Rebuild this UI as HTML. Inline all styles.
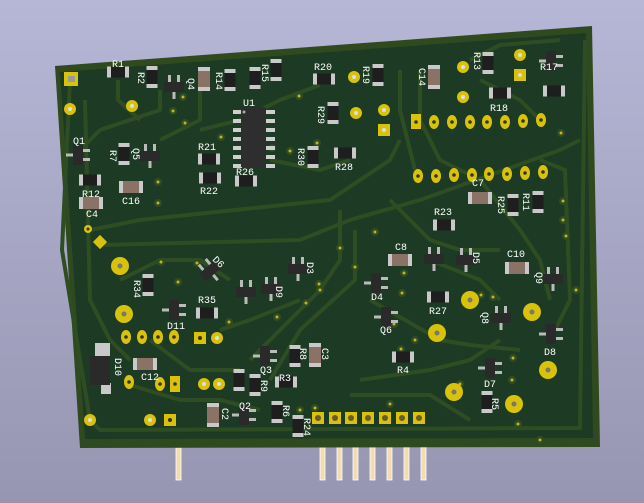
<!DOCTYPE html>
<html><head><meta charset="utf-8"><style>
html,body{margin:0;padding:0;width:644px;height:503px;overflow:hidden}
body{background:linear-gradient(#b6b6d6,#9696b2)}
svg text{font-family:"Liberation Mono",monospace;font-size:10px;fill:#fff}
</style></head><body>
<svg width="644" height="503" viewBox="0 0 644 503" xmlns="http://www.w3.org/2000/svg">
<defs>
<g id="rh"><rect x="-11" y="-5.5" width="22" height="11" fill="#c9c9c9"/><rect x="-7" y="-5.5" width="14" height="11" fill="#1e1e1e"/></g>
<g id="rv"><rect x="-5.5" y="-11" width="11" height="22" fill="#c9c9c9"/><rect x="-5.5" y="-7" width="11" height="14" fill="#1e1e1e"/></g>
<g id="ch"><rect x="-12" y="-6" width="24" height="12" fill="#c9c9c9"/><rect x="-8" y="-6" width="16" height="12" fill="#8a7266"/></g>
<g id="cv"><rect x="-6" y="-12" width="12" height="24" fill="#c9c9c9"/><rect x="-6" y="-8" width="12" height="16" fill="#8a7266"/></g>
<g id="sh"><rect x="-6" y="-12" width="3" height="7" fill="#bbb"/><rect x="3" y="-12" width="3" height="7" fill="#bbb"/><rect x="-1.5" y="5" width="3" height="7" fill="#bbb"/><rect x="-10" y="-5" width="20" height="10" fill="#2a2a2a"/></g>
<g id="sv"><rect x="-12" y="-1.5" width="7" height="3" fill="#bbb"/><rect x="5" y="-6" width="7" height="3" fill="#bbb"/><rect x="5" y="3" width="7" height="3" fill="#bbb"/><rect x="-5" y="-10" width="10" height="20" fill="#2a2a2a"/></g>
<g id="p"><ellipse rx="5" ry="7" fill="#d9c20a"/><circle r="1.8" fill="#333"/></g>
<g id="pb"><circle r="9" fill="#d9c20a"/><circle r="2.5" fill="#777"/></g>
<g id="pr"><circle r="6" fill="#d9c20a"/><circle r="2" fill="#ddd"/></g>
<g id="v"><circle r="4" fill="#2f4d22"/><circle r="1.5" fill="#c8b020"/></g>
</defs>
<g fill="#f2dcb0" stroke="#fff" stroke-width="0.8">
<rect x="176" y="447" width="5" height="33"/>
<rect x="320" y="447" width="5" height="33"/><rect x="337" y="447" width="5" height="33"/><rect x="353" y="447" width="5" height="33"/><rect x="370" y="447" width="5" height="33"/><rect x="387" y="447" width="5" height="33"/><rect x="404" y="447" width="5" height="33"/><rect x="421" y="447" width="5" height="33"/>
</g>
<polygon points="55,66 592,26 600,447 80,448" fill="#2f4a1e"/>
<polygon points="60,72 586,33 593,438 85,439" fill="#1c3a24"/>
<g fill="none" stroke="#2f4d22" stroke-width="4" stroke-linejoin="round">
<polyline points="70,80 62,250 90,420 100,430 580,428 585,40"/>
<polyline points="85,100 90,300 110,340 130,360"/>
<polyline points="118,80 118,100 140,120"/>
<polyline points="160,90 160,110 100,130 80,150"/>
<polyline points="200,90 200,120 160,140"/>
<polyline points="90,230 140,220 330,200 390,160 400,140"/>
<polyline points="100,245 300,240 350,220 420,200 560,150 580,140"/>
<polyline points="120,280 160,260 200,260 230,280"/>
<polyline points="340,210 340,260 320,290 280,330 250,360"/>
<polyline points="355,230 355,280 300,330 270,380"/>
<polyline points="400,70 400,110 415,170"/>
<polyline points="420,70 420,120 440,160 470,175"/>
<polyline points="480,80 520,100 540,120"/>
<polyline points="480,180 520,230 540,260 550,300"/>
<polyline points="390,200 430,240 460,250 500,250"/>
<polyline points="370,300 440,340 470,345 520,350"/>
<polyline points="360,380 430,370 470,360 500,340"/>
<polyline points="350,395 430,395 470,420"/>
<polyline points="130,385 180,400 220,400 260,410"/>
<polyline points="150,340 190,370 240,370"/>
<polyline points="200,130 240,120 280,100 320,85"/>
<polyline points="270,160 320,170 350,160"/>
<polyline points="540,160 565,170 570,300 555,330"/>
<polyline points="470,60 500,45 560,40"/>
<polyline points="430,260 480,280 500,300"/>
<polyline points="220,330 250,320 300,300"/>
</g>
<g>
<use href="#v" x="183" y="97"/><use href="#v" x="173" y="111"/><use href="#v" x="185" y="123"/><use href="#v" x="158" y="182"/><use href="#v" x="158" y="203"/><use href="#v" x="161" y="262"/><use href="#v" x="178" y="282"/><use href="#v" x="221" y="137"/><use href="#v" x="272" y="148"/><use href="#v" x="290" y="151"/><use href="#v" x="317" y="143"/><use href="#v" x="299" y="96"/><use href="#v" x="340" y="248"/><use href="#v" x="355" y="267"/><use href="#v" x="320" y="290"/><use href="#v" x="306" y="303"/><use href="#v" x="277" y="317"/><use href="#v" x="319" y="284"/><use href="#v" x="197" y="263"/><use href="#v" x="229" y="322"/><use href="#v" x="376" y="288"/><use href="#v" x="402" y="293"/><use href="#v" x="415" y="340"/><use href="#v" x="460" y="384"/><use href="#v" x="512" y="406"/><use href="#v" x="401" y="349"/><use href="#v" x="512" y="380"/><use href="#v" x="518" y="424"/><use href="#v" x="540" y="440"/><use href="#v" x="563" y="201"/><use href="#v" x="563" y="220"/><use href="#v" x="576" y="290"/><use href="#v" x="513" y="358"/><use href="#v" x="493" y="297"/><use href="#v" x="566" y="236"/><use href="#v" x="561" y="133"/><use href="#v" x="375" y="232"/><use href="#v" x="481" y="295"/><use href="#v" x="315" y="408"/><use href="#v" x="300" y="410"/><use href="#v" x="390" y="404"/><use href="#v" x="394" y="324"/><use href="#v" x="404" y="273"/>
</g>
<rect x="64" y="72" width="14" height="14" fill="#d9c20a"/><rect x="68" y="76" width="7" height="6" fill="#999"/>
<use href="#pr" x="70" y="109"/><use href="#pr" x="132" y="106"/><use href="#pr" x="354" y="77"/><use href="#pr" x="356" y="113"/><use href="#pr" x="384" y="110"/>
<rect x="378" y="124" width="12" height="12" fill="#d9c20a"/><circle cx="384" cy="130" r="2" fill="#ddd"/>
<use href="#pr" x="463" y="67"/><use href="#pr" x="463" y="97"/><use href="#pr" x="520" y="55"/>
<rect x="514" y="69" width="12" height="12" fill="#d9c20a"/><circle cx="520" cy="75" r="2" fill="#ddd"/>
<rect x="411" y="114" width="10" height="15" fill="#d9c20a"/><circle cx="416" cy="122" r="1.8" fill="#333"/>
<use href="#p" x="434" y="122"/><use href="#p" x="452" y="122"/><use href="#p" x="470" y="122"/><use href="#p" x="487" y="122"/><use href="#p" x="505" y="122"/><use href="#p" x="523" y="121"/><use href="#p" x="541" y="120"/>
<use href="#p" x="418" y="176"/><use href="#p" x="436" y="176"/><use href="#p" x="454" y="175"/><use href="#p" x="472" y="175"/><use href="#p" x="489" y="174"/><use href="#p" x="507" y="174"/><use href="#p" x="525" y="173"/><use href="#p" x="543" y="172"/>
<circle cx="88" cy="229" r="4" fill="#d9c20a"/><circle cx="88" cy="229" r="1.5" fill="#333"/>
<rect x="95" y="237" width="10" height="10" fill="#d9c20a" transform="rotate(45 100 242)"/>
<use href="#pb" x="120" y="266"/><use href="#pb" x="124" y="314"/>
<use href="#p" x="126" y="337"/><use href="#p" x="142" y="337"/><use href="#p" x="158" y="337"/><use href="#p" x="174" y="337"/>
<rect x="194" y="332" width="12" height="12" fill="#d9c20a"/><circle cx="200" cy="338" r="2" fill="#333"/><use href="#pr" x="217" y="338"/>
<use href="#p" x="129" y="382"/><use href="#p" x="160" y="384"/>
<rect x="170" y="376" width="10" height="16" fill="#d9c20a"/><circle cx="175" cy="384" r="1.8" fill="#333"/>
<use href="#pr" x="204" y="384"/><use href="#pr" x="219" y="384"/>
<use href="#pr" x="90" y="420"/><use href="#pr" x="150" y="420"/>
<rect x="164" y="414" width="12" height="12" fill="#d9c20a"/><circle cx="170" cy="420" r="2" fill="#333"/>
<use href="#pb" x="470" y="300"/><use href="#pb" x="532" y="312"/><use href="#pb" x="437" y="333"/><use href="#pb" x="548" y="370"/><use href="#pb" x="454" y="392"/><use href="#pb" x="514" y="404"/>
<g fill="#d9c20a"><rect x="312" y="412" width="12" height="12"/><rect x="329" y="412" width="12" height="12"/><rect x="345" y="412" width="12" height="12"/><rect x="362" y="412" width="12" height="12"/><rect x="379" y="412" width="12" height="12"/><rect x="396" y="412" width="12" height="12"/><rect x="413" y="412" width="12" height="12"/></g>
<g fill="#6a5a30"><circle cx="318" cy="418" r="3"/><circle cx="335" cy="418" r="3"/><circle cx="351" cy="418" r="3"/><circle cx="368" cy="418" r="3"/><circle cx="385" cy="418" r="3"/><circle cx="402" cy="418" r="3"/><circle cx="419" cy="418" r="3"/></g>
<g fill="#cfcfcf"><rect x="233" y="110" width="9" height="4"/><rect x="233" y="119" width="9" height="4"/><rect x="233" y="128" width="9" height="4"/><rect x="233" y="137" width="9" height="4"/><rect x="233" y="146" width="9" height="4"/><rect x="233" y="155" width="9" height="4"/><rect x="233" y="164" width="9" height="4"/>
<rect x="266" y="110" width="9" height="4"/><rect x="266" y="119" width="9" height="4"/><rect x="266" y="128" width="9" height="4"/><rect x="266" y="137" width="9" height="4"/><rect x="266" y="146" width="9" height="4"/><rect x="266" y="155" width="9" height="4"/><rect x="266" y="164" width="9" height="4"/></g>
<rect x="241" y="107" width="25" height="60" fill="#2e2e2e"/><circle cx="244" cy="112" r="1.5" fill="#aaa"/>
<use href="#rh" x="118" y="72"/><use href="#rv" x="152" y="77"/><use href="#sh" x="174" y="87"/><use href="#cv" x="204" y="79"/><use href="#rv" x="230" y="80"/><use href="#rv" x="255" y="78"/><use href="#rv" x="276" y="70"/>
<use href="#rh" x="324" y="79"/><use href="#rv" x="378" y="75"/><use href="#cv" x="434" y="77"/><use href="#rv" x="488" y="63"/><use href="#sv" x="551" y="61"/><use href="#rh" x="500" y="93"/><use href="#rh" x="554" y="91"/>
<use href="#rv" x="333" y="113"/><use href="#rv" x="313" y="157"/><use href="#rh" x="345" y="153"/>
<use href="#rh" x="209" y="159"/><use href="#rh" x="210" y="178"/><use href="#rh" x="246" y="181"/>
<use href="#sv" x="78" y="155"/><use href="#rv" x="124" y="154"/><use href="#sh" x="150" y="156"/>
<use href="#rh" x="90" y="180"/><use href="#ch" x="131" y="187"/><use href="#ch" x="91" y="203"/>
<use href="#ch" x="480" y="198"/><use href="#rv" x="513" y="205"/><use href="#rv" x="538" y="202"/><use href="#rh" x="444" y="225"/>
<use href="#rv" x="148" y="285"/><use href="#sh" x="210" y="271" transform="rotate(-40 210 271)"/><use href="#sh" x="246" y="292"/><use href="#sh" x="271" y="289"/><use href="#sh" x="298" y="269"/>
<use href="#ch" x="400" y="260"/><use href="#sh" x="434" y="259"/><use href="#sh" x="466" y="260"/><use href="#ch" x="517" y="268"/><use href="#sh" x="553" y="279"/>
<use href="#sv" x="376" y="283"/><use href="#rh" x="438" y="297"/><use href="#sv" x="386" y="317"/><use href="#sh" x="501" y="318"/><use href="#sv" x="551" y="334"/>
<use href="#sv" x="174" y="310"/><use href="#rh" x="207" y="313"/>
<rect x="95" y="343" width="15" height="14" fill="#c9c9c9"/><rect x="101" y="383" width="10" height="11" fill="#c9c9c9"/><rect x="90" y="356" width="20" height="29" fill="#2a2a2a"/>
<use href="#ch" x="145" y="364"/>
<use href="#sv" x="265" y="356"/><use href="#rv" x="295" y="356"/><use href="#cv" x="315" y="355"/><use href="#rh" x="403" y="357"/><use href="#sv" x="490" y="368"/>
<use href="#rv" x="239" y="380"/><use href="#rv" x="255" y="385"/><use href="#rh" x="286" y="382"/><use href="#rv" x="487" y="402"/>
<use href="#cv" x="213" y="415"/><use href="#sv" x="244" y="415"/><use href="#rv" x="277" y="412"/><use href="#rv" x="298" y="426"/>
<text x="112" y="67">R1</text><text x="314" y="70">R20</text><text x="243" y="106">U1</text>
<text x="198" y="150">R21</text><text x="200" y="194">R22</text><text x="236" y="175">R26</text><text x="335" y="170">R28</text>
<text x="490" y="111">R18</text><text x="73" y="144">Q1</text><text x="82" y="197">R12</text><text x="122" y="204">C16</text><text x="86" y="217">C4</text>
<text x="472" y="186">C7</text><text x="434" y="215">R23</text><text x="395" y="250">C8</text><text x="507" y="257">C10</text>
<text x="371" y="300">D4</text><text x="429" y="314">R27</text><text x="380" y="333">Q6</text><text x="544" y="355">D8</text>
<text x="198" y="303">R35</text><text x="167" y="329">D11</text><text x="141" y="380">C12</text><text x="260" y="373">Q3</text><text x="279" y="381">R3</text>
<text x="397" y="373">R4</text><text x="484" y="387">D7</text><text x="239" y="409">Q2</text>
<g font-size="10">
<text transform="translate(138,72) rotate(90)">R2</text><text transform="translate(188,78) rotate(90)">Q4</text><text transform="translate(216,72) rotate(90)">R14</text>
<text transform="translate(262,64) rotate(90)">R15</text><text transform="translate(363,66) rotate(90)">R19</text><text transform="translate(419,68) rotate(90)">C14</text>
<text transform="translate(474,52) rotate(90)">R13</text><text transform="translate(318,106) rotate(90)">R29</text><text transform="translate(298,148) rotate(90)">R30</text>
<text transform="translate(110,150) rotate(90)">R7</text><text transform="translate(133,148) rotate(90)">Q5</text><text transform="translate(498,196) rotate(90)">R25</text><text transform="translate(523,193) rotate(90)">R11</text>
<text transform="translate(134,280) rotate(90)">R34</text><text transform="translate(212,260) rotate(45)">D6</text><text transform="translate(276,286) rotate(90)">D9</text><text transform="translate(307,262) rotate(90)">D3</text>
<text transform="translate(473,252) rotate(90)">D5</text><text transform="translate(536,272) rotate(90)">Q9</text><text transform="translate(482,312) rotate(90)">Q8</text>
<text transform="translate(115,358) rotate(90)">D10</text><text transform="translate(300,348) rotate(90)">R8</text><text transform="translate(322,348) rotate(90)">C3</text>
<text transform="translate(261,380) rotate(90)">R9</text><text transform="translate(492,398) rotate(90)">R5</text><text transform="translate(222,408) rotate(90)">C2</text>
<text transform="translate(283,405) rotate(90)">R6</text><text transform="translate(304,418) rotate(90)">R24</text><text x="540" y="70" font-size="9">R17</text>
</g>
</svg>
</body></html>
